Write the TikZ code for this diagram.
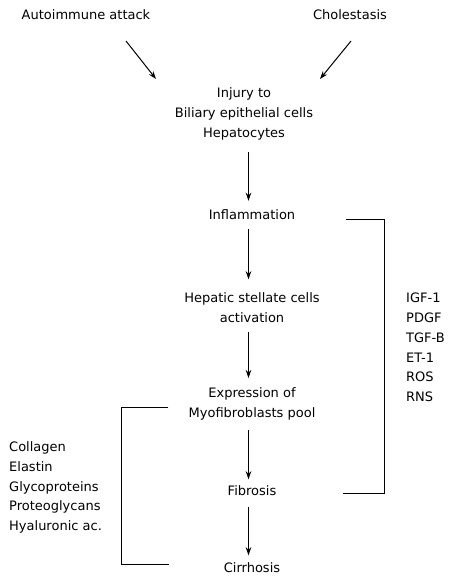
\documentclass[tikz,border=0pt]{standalone}
\usepackage{fontspec}
\setmainfont{DejaVu Sans}
\usetikzlibrary{arrows.meta}
\begin{document}
\begin{tikzpicture}[x=1pt,y=-1pt,
  txt/.style={inner sep=0pt,font=\fontsize{13}{20}\selectfont,align=center},
  lst/.style={inner sep=0pt,font=\fontsize{13}{19.8}\selectfont,align=left,anchor=west},
  arr/.style={line width=1pt,-{Stealth[length=8pt,width=5.5pt]}},
  brk/.style={line width=1pt}]
\useasboundingbox[fill=white] (0,0) rectangle (454,583);
\node[txt] (auto) at (86,15) {Autoimmune attack};
\node[txt] (chol) at (350,15) {Cholestasis};
\node[txt] (inj) at (244,114) {Injury to\\Biliary epithelial cells\\Hepatocytes};
\node[txt] (infl) at (252,215) {Inflammation};
\node[txt] (hsc) at (252,307.5) {Hepatic stellate cells\\activation};
\node[txt] (exp) at (252,403.5) {Expression of\\Myofibroblasts pool};
\node[txt] (fib) at (252,491) {Fibrosis};
\node[txt] (cirr) at (252,568) {Cirrhosis};
\node[lst] (right) at (406,347.5) {IGF-1\\PDGF\\TGF-B\\ET-1\\ROS\\RNS};
\node[lst] (left) at (9,487.5) {Collagen\\Elastin\\Glycoproteins\\Proteoglycans\\Hyaluronic ac.};
\coordinate (axis) at (248.5,0);
\coordinate (rb) at (384,0);
\coordinate (lb) at (121,0);
\coordinate (a1s) at (126,41);
\coordinate (a1e) at (156,79);
\coordinate (a2s) at (351,41);
\coordinate (a2e) at (320,79);
\draw[arr] (a1s) -- (a1e);
\draw[arr] (a2s) -- (a2e);
\draw[arr,shorten <=12pt,shorten >=9pt] (inj.south -| axis) -- (infl.north -| axis);
\draw[arr,shorten <=9pt,shorten >=13pt] (infl.south -| axis) -- (hsc.north -| axis);
\draw[arr,shorten <=9.5pt,shorten >=9pt] (hsc.south -| axis) -- (exp.north -| axis);
\draw[arr,shorten <=10pt,shorten >=6.5pt] (exp.south -| axis) -- (fib.north -| axis);
\draw[arr,shorten <=10.5pt,shorten >=7.5pt] (fib.south -| axis) -- (cirr.north -| axis);
\draw[brk] ([xshift=50.5pt,yshift=-4pt]infl.east) -- ([yshift=-4pt]infl.east -| rb) -- ([yshift=-2pt]fib.east -| rb) -- ([xshift=67pt,yshift=-2pt]fib.east);
\draw[brk] ([shift={(-20pt,-3.5pt)}]exp.west) -- ([yshift=-3.5pt]exp.west -| lb) -- ([yshift=4pt]cirr.west -| lb) -- ([xshift=-55pt,yshift=4pt]cirr.west);
\end{tikzpicture}
\end{document}
